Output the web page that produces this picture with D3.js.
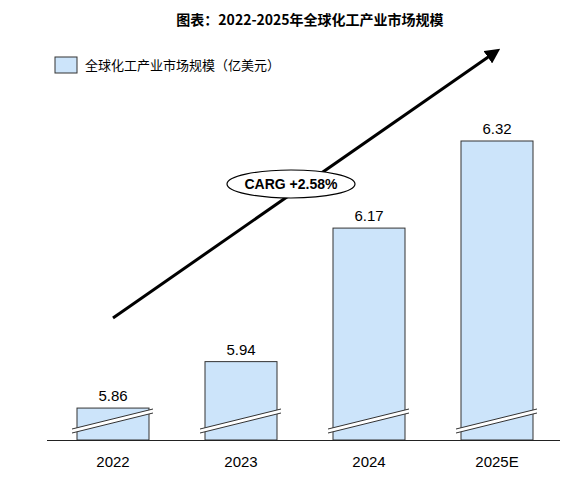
<!DOCTYPE html><html><head><meta charset="utf-8"><script src="https://cdn.jsdelivr.net/npm/d3@7"></script>
<style>body{margin:0;background:#fff}</style></head><body><svg id="c" width="575" height="484"></svg>
<script>
const categories=["2022","2023","2024","2025E"];
const values=[5.86,5.94,6.17,6.32];
const labels=["5.86","5.94","6.17","6.32"];
const title="图表：2022-2025年全球化工产业市场规模";
const legendText="全球化工产业市场规模（亿美元）";
const cagrText="CARG +2.58%";
const svg=d3.select("#c");
const font="Liberation Sans, Arial, sans-serif";
const x=d3.scaleBand().domain(categories).range([49,561]).paddingInner(0.4375).paddingOuter(0.21875);
const y=d3.scaleLinear().domain([5.805,6.32]).range([440,141]);
svg.append("text").attr("x",310).attr("y",25).attr("text-anchor","middle").attr("font-family","Noto Sans CJK SC").attr("font-weight","bold").attr("font-size",14).text(title);
svg.append("rect").attr("x",55).attr("y",57).attr("width",22).attr("height",16).attr("fill","#cce4fa").attr("stroke","#333");
svg.append("text").attr("x",85).attr("y",70).attr("font-family","Noto Sans CJK SC").attr("font-size",13).text(legendText);
const g=svg.append("g");
categories.forEach((c,i)=>{
 const bx=x(c),bw=x.bandwidth(),by=y(values[i]);
 g.append("rect").attr("x",bx).attr("y",by).attr("width",bw).attr("height",440-by).attr("fill","#cce4fa").attr("stroke","#333").attr("stroke-width",1);
 g.append("text").attr("x",bx+bw/2).attr("y",by-7).attr("text-anchor","middle").attr("font-family",font).attr("font-size",15).text(labels[i]);
 g.append("text").attr("x",bx+bw/2).attr("y",467).attr("text-anchor","middle").attr("font-family",font).attr("font-size",15).text(c);
 const x1=bx-5,x2=bx+bw+4,y1=433,y2=413;
 g.append("polygon").attr("points",`${x1},${y1} ${x2},${y2} ${x2},${y2-4} ${x1},${y1-4}`).attr("fill","#fff");
 g.append("line").attr("x1",x1).attr("y1",y1).attr("x2",x2).attr("y2",y2).attr("stroke","#333");
 g.append("line").attr("x1",x1).attr("y1",y1-4).attr("x2",x2).attr("y2",y2-4).attr("stroke","#333");
});
svg.append("line").attr("x1",47).attr("x2",560).attr("y1",440.5).attr("y2",440.5).attr("stroke","#222");
svg.append("defs").append("marker").attr("id","ah").attr("viewBox","0 0 10 10").attr("refX",5).attr("refY",5).attr("markerWidth",5).attr("markerHeight",5).attr("orient","auto").append("path").attr("d","M0,0L10,5L0,10z").attr("fill","#000");
svg.append("line").attr("x1",113).attr("y1",318).attr("x2",494).attr("y2",53).attr("stroke","#000").attr("stroke-width",3).attr("marker-end","url(#ah)");
svg.append("ellipse").attr("cx",291).attr("cy",184).attr("rx",64).attr("ry",14).attr("fill","#fff").attr("stroke","#000").attr("stroke-width",1.2);
svg.append("text").attr("x",291).attr("y",189).attr("text-anchor","middle").attr("font-family",font).attr("font-weight","bold").attr("font-size",14).text(cagrText);
</script></body></html>
